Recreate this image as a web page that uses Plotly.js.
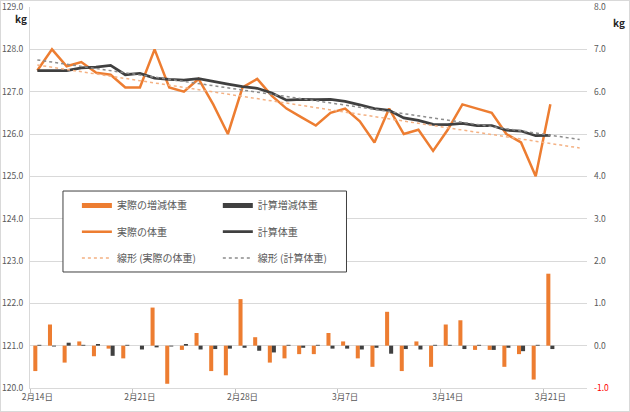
<!DOCTYPE html>
<html>
<head>
<meta charset="utf-8">
<script src="https://cdn.plot.ly/plotly-3.0.1.min.js"></script>
<style>
  html, body { margin: 0; padding: 0; background: #fff; }
  #chart { width: 630px; height: 412px; }
  #frame { position: absolute; left: 0; top: 0; width: 630px; height: 412px;
           box-sizing: border-box; border: 1px solid #d9d9d9; pointer-events: none; }
</style>
</head>
<body>
<div id="chart"></div>
<div id="frame"></div>
<script>
// ---- data ----
const dates = [
  '2021-02-14','2021-02-15','2021-02-16','2021-02-17','2021-02-18','2021-02-19','2021-02-20',
  '2021-02-21','2021-02-22','2021-02-23','2021-02-24','2021-02-25','2021-02-26','2021-02-27',
  '2021-02-28','2021-03-01','2021-03-02','2021-03-03','2021-03-04','2021-03-05','2021-03-06',
  '2021-03-07','2021-03-08','2021-03-09','2021-03-10','2021-03-11','2021-03-12','2021-03-13',
  '2021-03-14','2021-03-15','2021-03-16','2021-03-17','2021-03-18','2021-03-19','2021-03-20',
  '2021-03-21'
];

// 実際の体重 (left axis, kg)
const actualWeight = [127.5, 128.0, 127.6, 127.7, 127.45, 127.4, 127.1, 127.1, 128.0, 127.1,
  127.0, 127.3, 126.7, 126.0, 127.1, 127.3, 126.9, 126.6, 126.4, 126.2, 126.5, 126.6, 126.3,
  125.8, 126.6, 126.0, 126.1, 125.6, 126.1, 126.7, 126.6, 126.5, 126.0, 125.8, 125.0, 126.7];

// 計算体重 (left axis, kg)
const calcWeight = [127.50, 127.50, 127.50, 127.56, 127.58, 127.62, 127.40, 127.43, 127.32,
  127.29, 127.27, 127.31, 127.24, 127.18, 127.12, 127.08, 126.97, 126.80, 126.82, 126.81,
  126.82, 126.77, 126.69, 126.60, 126.56, 126.38, 126.32, 126.23, 126.22, 126.25, 126.20,
  126.20, 126.09, 126.07, 125.96, 125.97];

// 実際の増減体重 (right axis, kg)
const actualChange = [-0.6, 0.5, -0.4, 0.1, -0.25, -0.07, -0.3, 0, 0.9, -0.9, -0.1, 0.3,
  -0.6, -0.7, 1.1, 0.2, -0.4, -0.3, -0.2, -0.2, 0.3, 0.1, -0.3, -0.5, 0.8, -0.6, 0.1, -0.5,
  0.5, 0.6, -0.1, -0.1, -0.5, -0.2, -0.8, 1.7];

// 計算増減体重 (right axis, kg)
const calcChange = [0.02, -0.02, 0.07, 0.02, 0.04, -0.24, 0.02, -0.09, -0.04, -0.02, 0.04,
  -0.09, -0.08, -0.07, -0.05, -0.12, -0.16, 0.02, -0.05, 0.02, -0.07, -0.07, -0.09, -0.05,
  -0.19, -0.08, -0.09, 0.02, 0.02, -0.08, 0.02, -0.1, -0.05, -0.13, 0.02, -0.08];

// linear trendlines (start / end, forecast 2 days forward)
const trendDates = ['2021-02-14', '2021-03-23'];
const trendActual = [127.63, 125.67];
const trendCalc = [127.75, 125.87];

// axis ticks
const tickDates = ['2021-02-14', '2021-02-21', '2021-02-28', '2021-03-07', '2021-03-14', '2021-03-21'];
const tickLabels = ['2月14日', '2月21日', '2月28日', '3月7日', '3月14日', '3月21日'];
const rightTicks = [-1, 0, 1, 2, 3, 4, 5, 6, 7, 8];

// ---- styling ----
const FONT = "'Noto Sans CJK JP', 'Noto Sans', sans-serif";
const GRAY = '#595959';
const ORANGE = '#ED7D31';
const DARK = '#404040';

// tick marks sit on the day boundaries, labels on the day centre
const HALF_DAY = 12 * 3600 * 1000;
let boundaries = tickDates.map(d => new Date(d + 'T00:00:00Z').getTime() - HALF_DAY);

let rightText = rightTicks.map(v => v < 0
  ? '<span style="color:#ff0000">' + v.toFixed(1) + '</span>'
  : v.toFixed(1));

// bars get a flat wide key in the legend like Excel, so the bar traces
// stay out of the legend and an empty line entry stands in for them
let traces = [
  { x: dates, y: actualChange, type: 'bar', yaxis: 'y2', name: '実際の増減体重',
    marker: { color: ORANGE }, showlegend: false },
  { x: dates, y: calcChange, type: 'bar', yaxis: 'y2', name: '計算増減体重',
    marker: { color: DARK }, showlegend: false },
  { x: [null], y: [null], type: 'scatter', mode: 'lines', name: '実際の増減体重',
    line: { color: ORANGE, width: 5 }, legend: 'legend', legendgroup: 'a1' },
  { x: [null], y: [null], type: 'scatter', mode: 'lines', name: '計算増減体重',
    line: { color: DARK, width: 5 }, legend: 'legend2', legendgroup: 'b1' },
  { x: dates, y: actualWeight, type: 'scatter', mode: 'lines', name: '実際の体重',
    line: { color: ORANGE, width: 2.5 }, legend: 'legend', legendgroup: 'a2' },
  { x: dates, y: calcWeight, type: 'scatter', mode: 'lines', name: '計算体重',
    line: { color: DARK, width: 2.75 }, legend: 'legend2', legendgroup: 'b2' },
  { x: trendDates, y: trendActual, type: 'scatter', mode: 'lines', name: '線形 (実際の体重)',
    line: { color: '#F4B183', width: 1.5, dash: 'dot' }, legend: 'legend', legendgroup: 'a3' },
  { x: trendDates, y: trendCalc, type: 'scatter', mode: 'lines', name: '線形 (計算体重)',
    line: { color: '#8C8C8C', width: 1.5, dash: 'dot' }, legend: 'legend2', legendgroup: 'b3' }
];

let legendBase = {
  orientation: 'v', xanchor: 'left', yanchor: 'top', y: 0.517,
  bgcolor: 'rgba(0,0,0,0)', borderwidth: 0, tracegroupgap: 7.2,
  font: { family: FONT, size: 10, color: GRAY }
};

let layout = {
  width: 630, height: 412,
  margin: { l: 30, r: 43, t: 7, b: 24 },
  paper_bgcolor: '#fff', plot_bgcolor: '#fff',
  font: { family: FONT, size: 8.5, color: GRAY },
  barmode: 'group', bargap: 0.45, bargroupgap: 0,
  showlegend: true,
  xaxis: {
    type: 'date',
    range: ['2021-02-13 12:00', '2021-03-23 12:00'],
    tickmode: 'array', tickvals: tickDates, ticktext: tickLabels,
    ticks: '', ticklabelstandoff: 1,
    showgrid: false, zeroline: false,
    showline: true, linecolor: '#d9d9d9', linewidth: 1,
    minor: { tickmode: 'array', tickvals: boundaries, ticks: 'outside', ticklen: 4,
             tickcolor: '#bfbfbf', showgrid: false }
  },
  yaxis: {
    range: [120, 129], tick0: 120, dtick: 1, tickformat: '.1f',
    gridcolor: '#d9d9d9', gridwidth: 1, zeroline: false,
    showline: true, linecolor: '#d9d9d9', ticks: '', ticklabelstandoff: 4,
    ticklabeloverflow: 'allow'
  },
  yaxis2: {
    overlaying: 'y', side: 'right', range: [-1, 8],
    tickmode: 'array', tickvals: rightTicks, ticktext: rightText,
    showgrid: false, zeroline: false, showline: false, ticks: '', ticklabelstandoff: 6,
    ticklabeloverflow: 'allow'
  },
  legend: Object.assign({}, legendBase, { x: 0.0842 }),
  legend2: Object.assign({}, legendBase, { x: 0.3372 }),
  shapes: [{
    type: 'rect', xref: 'paper', yref: 'paper', layer: 'above',
    x0: 0.0592, x1: 0.5682, y0: 0.3045, y1: 0.517,
    line: { color: DARK, width: 1 }, fillcolor: '#ffffff'
  }],
  annotations: [
    { xref: 'paper', yref: 'paper', x: 0, y: 1, xanchor: 'right', yanchor: 'middle',
      xshift: -1, yshift: -11, text: '<b>kg</b>', showarrow: false,
      font: { family: FONT, size: 10, color: '#262626' } },
    { xref: 'paper', yref: 'paper', x: 1, y: 1, xanchor: 'left', yanchor: 'middle',
      xshift: 24, yshift: -15, text: '<b>kg</b>', showarrow: false,
      font: { family: FONT, size: 10, color: '#262626' } }
  ]
};

Plotly.newPlot('chart', traces, layout, { displayModeBar: false, staticPlot: true });
</script>
</body>
</html>
